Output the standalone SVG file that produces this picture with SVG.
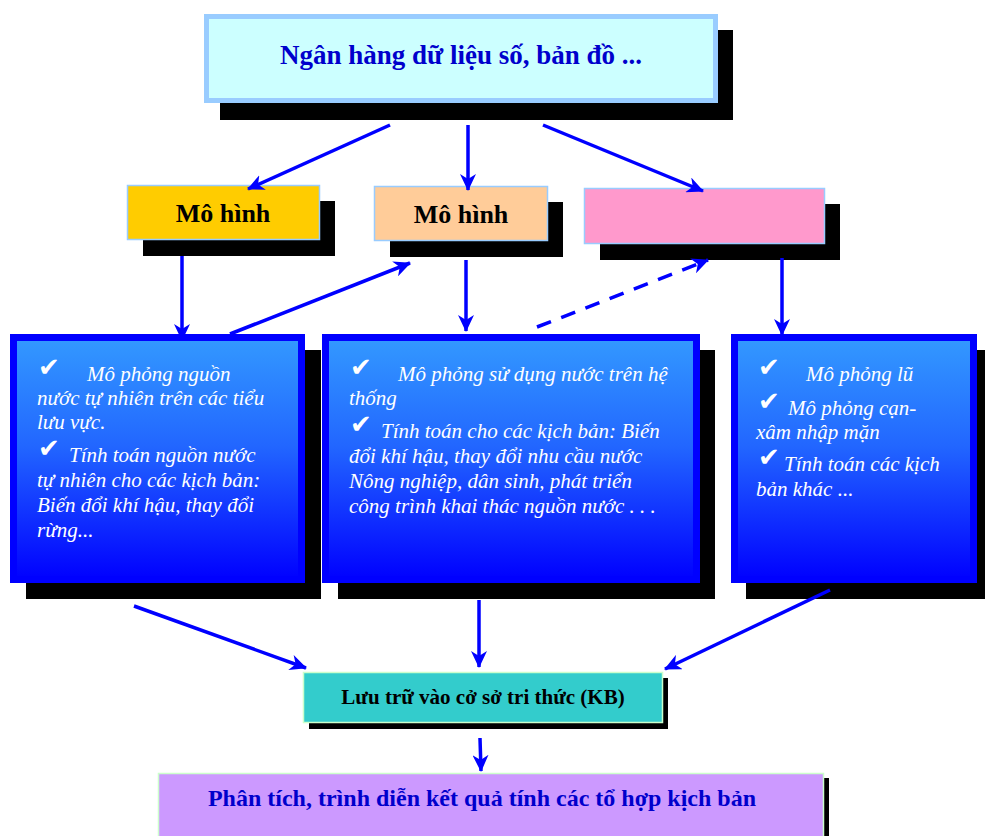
<svg xmlns="http://www.w3.org/2000/svg" width="985" height="836" viewBox="0 0 985 836">
<defs>
<linearGradient id="bg" x1="0" y1="0" x2="0" y2="1">
<stop offset="0" stop-color="#3399FF"/>
<stop offset="0.45" stop-color="#2266FF"/>
<stop offset="1" stop-color="#0000FF"/>
</linearGradient>
<marker id="ah" markerUnits="userSpaceOnUse" markerWidth="18" markerHeight="16" refX="16" refY="8" orient="auto">
<path d="M0,0 L17,8 L0,16 L5,8 z" fill="#0000FF"/>
</marker>
<style>
.sh{fill:#000}
.con{stroke:#0000FF;stroke-width:3.5;fill:none;marker-end:url(#ah)}
.big{fill:url(#bg);stroke:#0000FF;stroke-width:7}
.it{font-family:"Liberation Serif","DejaVu Serif",serif;font-style:italic;font-size:21px;fill:#FFFFFF}
.ck{font-family:"DejaVu Sans",sans-serif;font-size:26px;font-weight:bold;fill:#FFFFFF;font-style:normal}
.bt{font-family:"Liberation Serif","DejaVu Serif",serif;font-weight:bold;text-anchor:middle}
</style>
</defs>
<rect width="985" height="836" fill="#FFFFFF"/>

<g id="top">
<rect class="sh" x="220" y="30" width="513" height="90"/>
<rect x="206.5" y="16.5" width="509" height="84" fill="#CCFFFF" stroke="#99CCFF" stroke-width="5"/>
<text class="bt" x="461" y="64" font-size="27" fill="#0000CC">Ngân hàng dữ liệu số, bản đồ ...</text>
</g>

<g id="model1">
<rect class="sh" x="143" y="201" width="192" height="55"/>
<rect x="127.5" y="185.5" width="192" height="54" fill="#FFCC00" stroke="#99CCFF" stroke-width="1.5"/>
<text class="bt" x="223" y="222" font-size="26" fill="#000">Mô hình</text>
</g>

<g id="model2">
<rect class="sh" x="390" y="202" width="173" height="55"/>
<rect x="374.5" y="186.5" width="173" height="54" fill="#FFCC99" stroke="#99CCFF" stroke-width="1.5"/>
<text class="bt" x="461" y="223" font-size="26" fill="#000">Mô hình</text>
</g>

<g id="model3">
<rect class="sh" x="600" y="204" width="240" height="56"/>
<rect x="584.5" y="188.5" width="240" height="55" fill="#FF99CC" stroke="#99CCFF" stroke-width="1.5"/>
</g>

<g id="boxA">
<rect class="sh" x="26" y="350" width="295" height="249"/>
<rect class="big" x="13.5" y="337.5" width="288" height="242"/>
<text class="ck" x="38" y="376">✔</text>
<text class="it" x="87" y="381">Mô phỏng nguồn</text>
<text class="it" x="37" y="405">nước tự nhiên trên các tiểu</text>
<text class="it" x="37" y="429">lưu vực.</text>
<text class="ck" x="38" y="457">✔</text>
<text class="it" x="69" y="462">Tính toán nguồn nước</text>
<text class="it" x="37" y="487">tự nhiên cho các kịch bản:</text>
<text class="it" x="37" y="512">Biến đổi khí hậu, thay đổi</text>
<text class="it" x="37" y="537">rừng...</text>
</g>

<g id="boxB">
<rect class="sh" x="338" y="350" width="377" height="249"/>
<rect class="big" x="325.5" y="337.5" width="371" height="242"/>
<text class="ck" x="350" y="376">✔</text>
<text class="it" x="398" y="381">Mô phỏng sử dụng nước trên hệ</text>
<text class="it" x="349" y="405">thống</text>
<text class="ck" x="350" y="433">✔</text>
<text class="it" x="381" y="438">Tính toán cho các kịch bản: Biến</text>
<text class="it" x="349" y="463">đổi khí hậu, thay đổi nhu cầu nước</text>
<text class="it" x="349" y="488">Nông nghiệp, dân sinh, phát triển</text>
<text class="it" x="349" y="513">công trình khai thác nguồn nước . . .</text>
</g>

<g id="boxC">
<rect class="sh" x="746" y="350" width="239" height="249"/>
<rect class="big" x="734.5" y="337.5" width="239" height="242"/>
<text class="ck" x="758" y="376">✔</text>
<text class="it" x="806" y="381">Mô phỏng lũ</text>
<text class="ck" x="758" y="410">✔</text>
<text class="it" x="788" y="415">Mô phỏng cạn-</text>
<text class="it" x="756" y="439">xâm nhập mặn</text>
<text class="ck" x="758" y="466">✔</text>
<text class="it" x="784" y="471">Tính toán các kịch</text>
<text class="it" x="756" y="496">bản khác ...</text>
</g>

<g id="kb">
<rect class="sh" x="309" y="678" width="359" height="51"/>
<rect x="303.5" y="672.5" width="359" height="50" fill="#33CCCC" stroke="#CCFFCC" stroke-width="1.5"/>
<text class="bt" x="483" y="704" font-size="21" fill="#000">Lưu trữ vào cở sở tri thức (KB)</text>
</g>

<g id="result">
<rect class="sh" x="823" y="778" width="6" height="58"/>
<rect x="158.5" y="773.5" width="665" height="70" fill="#CC99FF" stroke="#CCFFCC" stroke-width="1.5"/>
<text class="bt" x="482" y="806" font-size="24" fill="#0000CC">Phân tích, trình diễn kết quả tính các tổ hợp kịch bản</text>
</g>

<g id="connectors">
<line class="con" x1="390" y1="125" x2="248" y2="189"/>
<line class="con" x1="468" y1="125" x2="468" y2="190"/>
<line class="con" x1="543" y1="125" x2="703" y2="191"/>
<line class="con" x1="182" y1="256" x2="182" y2="340"/>
<line class="con" x1="230" y1="334" x2="410" y2="263"/>
<line class="con" x1="466" y1="260" x2="466" y2="331"/>
<line class="con" x1="537" y1="327" x2="708" y2="260" stroke-dasharray="15 11" stroke-width="4"/>
<line class="con" x1="782" y1="258" x2="782" y2="335"/>
<line class="con" x1="134" y1="606" x2="306" y2="668"/>
<line class="con" x1="479" y1="600" x2="479" y2="667"/>
<line class="con" x1="830" y1="590" x2="665" y2="669"/>
<line class="con" x1="480" y1="738" x2="481" y2="771"/>
</g>
</svg>
